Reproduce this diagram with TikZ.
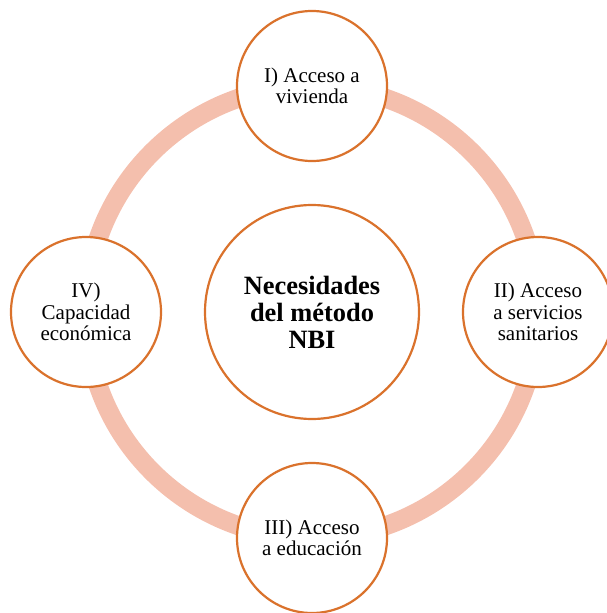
\documentclass[tikz,border=0pt]{standalone}
\usepackage{fontspec}
\setmainfont{Liberation Serif}
\definecolor{ringpink}{RGB}{244,191,173}
\definecolor{rimorange}{RGB}{218,114,44}

\begin{document}
\begin{tikzpicture}[x=1pt,y=-1pt,
        sat/.style={circle,draw=rimorange,line width=2.2pt,fill=white,
            minimum size=150pt,inner sep=0pt,align=center,
            font=\fontsize{21}{21.5}\selectfont},
        hub/.style={sat,minimum size=214pt,
            font=\fontsize{26.4}{27}\selectfont\bfseries}]
        \useasboundingbox (0,0) rectangle (606,613);
        \coordinate (o) at (312,312);
        % ring behind the circles
        \draw[ringpink,line width=19pt] (o) circle (226pt);
        \node[hub] (nbi) at (o) {Necesidades\\del método\\NBI};
        \node[sat] (viv) at (312,86) {I) Acceso a\\vivienda};
        \node[sat] (san) at (538,312) {II) Acceso\\a servicios\\sanitarios};
        \node[sat] (edu) at (312,538) {III) Acceso\\a educación};
        \node[sat] (eco) at (86,312) {IV)\\Capacidad\\económica};
    \end{tikzpicture}
\end{document}
